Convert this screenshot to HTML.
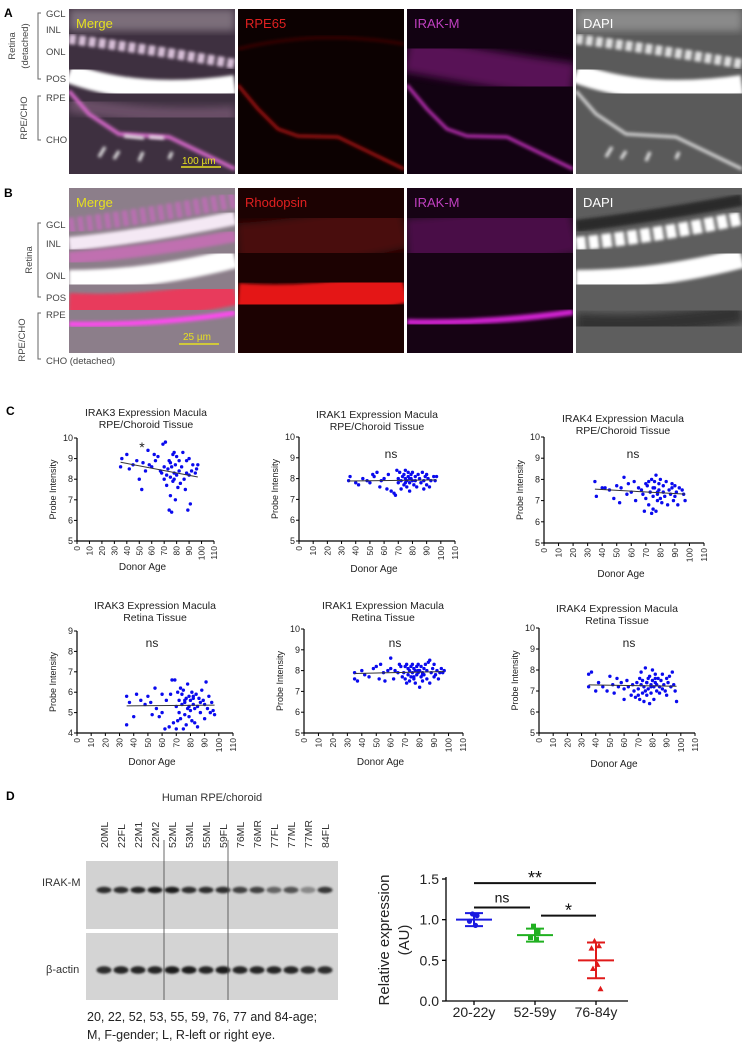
<!DOCTYPE html>
<html><head><meta charset="utf-8">
<style>
html,body{margin:0;padding:0;background:#fff;}
#page{position:relative;width:748px;height:1050px;overflow:hidden;font-family:"Liberation Sans",sans-serif;}
svg text{font-family:"Liberation Sans",sans-serif;}
</style></head>
<body>
<div id="page">
<svg id="fig" width="748" height="1050" viewBox="0 0 748 1050" xmlns="http://www.w3.org/2000/svg">
<defs>
<filter id="bl" x="-20%" y="-20%" width="140%" height="140%"><feGaussianBlur stdDeviation="1.6"/></filter>
<filter id="bl2" x="-20%" y="-20%" width="140%" height="140%"><feGaussianBlur stdDeviation="4"/></filter>
<filter id="bb" x="-50%" y="-100%" width="200%" height="300%"><feGaussianBlur stdDeviation="1"/></filter>
<clipPath id="cp"><rect x="0" y="0" width="166" height="165"/></clipPath>
</defs>

<!-- Panel labels -->
<text x="4" y="17" font-size="12" font-weight="bold">A</text>
<text x="4" y="197" font-size="12" font-weight="bold">B</text>
<text x="6" y="415" font-size="12" font-weight="bold">C</text>
<text x="6" y="800" font-size="12" font-weight="bold">D</text>

<!-- Panel A side labels -->
<g font-size="9.5" fill="#444">
<text x="46" y="17">GCL</text><text x="46" y="33">INL</text><text x="46" y="55">ONL</text><text x="46" y="82">POS</text><text x="46" y="101">RPE</text><text x="46" y="143">CHO</text>
<path d="M41,13 h-3 v66 h3" stroke="#666" fill="none"/>
<path d="M41,96 h-3 v44 h3" stroke="#666" fill="none"/>
<text transform="translate(15,46) rotate(-90)" text-anchor="middle" font-size="9.5">Retina</text>
<text transform="translate(28,46) rotate(-90)" text-anchor="middle" font-size="9.5">(detached)</text>
<text transform="translate(27,118) rotate(-90)" text-anchor="middle" font-size="9.5">RPE/CHO</text>
</g>
<!-- Panel B side labels -->
<g font-size="9.5" fill="#444">
<text x="46" y="228">GCL</text><text x="46" y="247">INL</text><text x="46" y="279">ONL</text><text x="46" y="301">POS</text><text x="46" y="318">RPE</text><text x="46" y="364">CHO (detached)</text>
<path d="M41,223 h-3 v74 h3" stroke="#666" fill="none"/>
<path d="M41,313 h-3 v46 h3" stroke="#666" fill="none"/>
<text transform="translate(32,260) rotate(-90)" text-anchor="middle" font-size="9.5">Retina</text>
<text transform="translate(25,340) rotate(-90)" text-anchor="middle" font-size="9.5">RPE/CHO</text>
</g>

<!-- Panel A images -->
<g transform="translate(69,9)"><g clip-path="url(#cp)">
<rect width="166" height="165" fill="#3e3040"/>
<rect width="166" height="22" fill="#7c6e7a" filter="url(#bl2)"/>
<path d="M0,30 Q80,40 166,55" stroke="#d8c0d8" stroke-width="10" fill="none" stroke-dasharray="7 3" filter="url(#bl)"/>
<path d="M0,64 Q70,90 166,76" stroke="#fff" stroke-width="20" fill="none" filter="url(#bl)"/>
<path d="M0,95 Q80,110 166,105" stroke="#6a5068" stroke-width="16" fill="none" filter="url(#bl2)"/>
<path d="M0,82 L20,105 L50,125 L100,128 L166,160" stroke="#d468c8" stroke-width="4" fill="none" filter="url(#bl)"/>
<path d="M30,148 l6,-10 M45,150 l5,-8 M70,152 l4,-9 M100,150 l3,-7 M55,127 l20,2 M80,128 l15,1" stroke="#eee" stroke-width="3" filter="url(#bl)"/>
<text x="7" y="19" font-size="13" fill="#e6e020">Merge</text>
<line x1="112" y1="158" x2="152" y2="158" stroke="#e6e020" stroke-width="1.5"/>
<text x="113" y="155" font-size="10" fill="#e6e020">100 µm</text>
</g></g>
<g transform="translate(238,9)"><g clip-path="url(#cp)">
<rect width="166" height="165" fill="#0c0101"/>
<path d="M0,40 Q80,20 166,35" stroke="#3a0606" stroke-width="3" fill="none" filter="url(#bl)"/>
<path d="M0,76 L20,100 L40,120 L60,127 L100,128 L166,160" stroke="#c41212" stroke-width="2.5" fill="none" filter="url(#bl)"/>
<text x="7" y="19" font-size="13" fill="#e02020">RPE65</text>
</g></g>
<g transform="translate(407,9)"><g clip-path="url(#cp)">
<rect width="166" height="165" fill="#120212"/>
<path d="M0,45 Q80,60 166,72" stroke="#6a1868" stroke-width="36" fill="none" opacity="0.8" filter="url(#bl2)"/>
<path d="M0,76 L20,100 L40,120 L60,127 L100,128 L166,160" stroke="#c830c0" stroke-width="3" fill="none" filter="url(#bl)"/>
<text x="7" y="19" font-size="13" fill="#c040c0">IRAK-M</text>
</g></g>
<g transform="translate(576,9)"><g clip-path="url(#cp)">
<rect width="166" height="165" fill="#5a5a5a"/>
<rect width="166" height="22" fill="#8a8a8a" filter="url(#bl2)"/>
<path d="M0,30 Q80,40 166,55" stroke="#e0e0e0" stroke-width="10" fill="none" stroke-dasharray="7 3" filter="url(#bl)"/>
<path d="M0,64 Q70,90 166,76" stroke="#fff" stroke-width="20" fill="none" filter="url(#bl)"/>
<path d="M0,82 L20,105 L50,125 L100,128 L166,160" stroke="#ddd" stroke-width="3" fill="none" filter="url(#bl)"/>
<path d="M30,148 l6,-10 M45,150 l5,-8 M70,152 l4,-9 M100,150 l3,-7" stroke="#eee" stroke-width="3" filter="url(#bl)"/>
<text x="7" y="19" font-size="13" fill="#fff">DAPI</text>
</g></g>

<!-- Panel B images -->
<g transform="translate(69,188)"><g clip-path="url(#cp)">
<rect width="166" height="165" fill="#8c7e8a"/>
<path d="M0,38 Q80,28 166,12" stroke="#b870b0" stroke-width="16" fill="none" stroke-dasharray="6 3" filter="url(#bl)"/>
<path d="M0,56 Q80,48 166,30" stroke="#f4e8f4" stroke-width="14" fill="none" filter="url(#bl)"/>
<path d="M0,70 Q80,64 166,48" stroke="#c070b0" stroke-width="12" fill="none" filter="url(#bl)"/>
<path d="M0,92 Q80,92 166,70" stroke="#fff" stroke-width="20" fill="none" filter="url(#bl)"/>
<path d="M0,118 Q80,122 166,104" stroke="#e83a5c" stroke-width="26" fill="none" filter="url(#bl)"/>
<path d="M0,136 Q80,138 166,125" stroke="#ff48f0" stroke-width="5" fill="none" filter="url(#bl)"/>
<text x="7" y="19" font-size="13" fill="#e6e020">Merge</text>
<line x1="110" y1="156" x2="150" y2="156" stroke="#e6e020" stroke-width="1.5"/>
<text x="114" y="152" font-size="10" fill="#e6e020">25 µm</text>
</g></g>
<g transform="translate(238,188)"><g clip-path="url(#cp)">
<rect width="166" height="165" fill="#1c0202"/>
<path d="M0,60 Q80,55 166,35" stroke="#4a0808" stroke-width="50" fill="none" filter="url(#bl2)"/>
<path d="M0,112 Q80,118 166,98" stroke="#e41212" stroke-width="34" fill="none" filter="url(#bl)"/>
<text x="7" y="19" font-size="13" fill="#e02020">Rhodopsin</text>
</g></g>
<g transform="translate(407,188)"><g clip-path="url(#cp)">
<rect width="166" height="165" fill="#160314"/>
<path d="M0,60 Q80,55 166,35" stroke="#4a1046" stroke-width="60" fill="none" filter="url(#bl2)"/>
<path d="M0,134 Q80,136 166,124" stroke="#d020d0" stroke-width="6" fill="none" filter="url(#bl)"/>
<text x="7" y="19" font-size="13" fill="#c040c0">IRAK-M</text>
</g></g>
<g transform="translate(576,188)"><g clip-path="url(#cp)">
<rect width="166" height="165" fill="#5e5e5e"/>
<path d="M0,38 Q80,28 166,12" stroke="#2a2a2a" stroke-width="12" fill="none" filter="url(#bl)"/>
<path d="M0,56 Q80,48 166,30" stroke="#fff" stroke-width="14" fill="none" stroke-dasharray="10 3" filter="url(#bl)"/>
<path d="M0,92 Q80,92 166,70" stroke="#fff" stroke-width="20" fill="none" filter="url(#bl)"/>
<path d="M0,135 Q80,140 166,125" stroke="#333" stroke-width="20" fill="none" filter="url(#bl2)"/>
<text x="7" y="19" font-size="13" fill="#fff">DAPI</text>
</g></g>

<g id="charts"></g>
<g id="blot"></g>
<g id="plotd"></g>
</svg>
</div>
<script>
// ---------- Panel C data ----------
const rpeAges = [35,36,40,42,45,48,50,52,53,55,57,58,60,62,63,65,67,68,69,70,
70,71,72,72,73,74,74,75,75,76,76,77,77,78,78,79,79,80,80,81,
82,82,83,84,85,86,87,88,88,89,90,90,91,92,93,95,96,97,75,78];
const irak3Rpe = [8.6,9.0,9.2,8.5,8.7,8.9,8.0,7.5,8.8,8.4,9.4,8.7,8.6,9.2,8.9,9.1,8.4,8.3,9.7,8.6,
8.0,9.8,8.2,7.7,8.5,6.5,8.9,8.1,7.2,6.4,8.6,9.2,7.9,9.3,8.3,7.0,8.7,8.2,9.1,7.6,
8.9,8.4,7.8,8.6,9.3,8.0,7.5,8.9,8.3,6.5,9.0,8.2,6.8,8.4,8.7,8.3,8.5,8.7,8.8,8.0];
const irak1Rpe = [7.9,8.1,7.8,7.7,8.0,7.9,7.8,8.2,8.1,8.3,7.6,7.9,8.0,7.5,8.2,7.4,7.3,7.2,8.4,8.0,
7.8,8.3,7.9,7.5,8.1,8.2,7.7,8.0,8.4,7.9,7.6,8.3,8.1,7.8,7.4,8.2,8.0,7.9,8.3,7.7,
8.1,7.9,7.6,8.2,8.0,7.8,8.3,7.5,7.9,8.1,8.2,7.7,8.0,7.6,7.9,8.1,7.9,8.1,7.8,8.0];
const irak4Rpe = [7.9,7.2,7.6,7.6,7.5,7.1,7.7,6.9,7.6,8.1,7.3,7.8,7.4,7.9,7.0,7.6,7.5,7.3,6.5,7.8,
7.1,7.7,6.8,7.9,7.4,6.4,8.0,7.2,6.6,7.6,7.9,6.5,8.2,7.3,7.0,7.8,7.5,7.1,8.0,6.9,
7.4,7.7,7.2,7.9,6.8,7.5,7.3,7.6,7.8,7.0,7.7,7.2,7.4,6.8,7.6,7.5,7.3,7.0,7.6,7.4];
const retAges = [35,35,37,40,42,45,48,50,52,53,55,56,58,60,60,62,63,65,66,67,
68,69,70,70,71,71,72,72,73,73,74,74,75,75,76,76,77,77,78,78,
79,79,80,80,81,81,82,82,83,83,84,85,85,86,87,87,88,89,90,90,
91,92,93,94,95,96,97,76,79,82];
const irak3Ret = [5.8,4.4,5.5,4.8,5.9,5.6,5.4,5.8,5.5,4.9,6.2,5.2,4.8,5.9,5.0,4.2,5.6,4.3,5.9,6.6,
4.5,6.6,5.3,4.2,6.0,4.6,5.6,5.0,6.2,4.7,5.4,5.9,4.2,6.1,5.5,4.9,5.7,4.4,6.4,5.2,
5.8,4.8,5.6,5.1,6.0,4.6,5.4,5.8,5.2,4.5,5.9,5.3,4.3,5.7,5.5,5.0,6.1,5.6,4.7,5.4,
6.5,5.2,5.8,5.0,5.5,5.1,4.9,5.6,5.3,5.7];
const irak1Ret = [7.6,7.9,7.5,8.0,7.8,7.7,8.1,8.2,7.6,8.3,7.9,7.5,8.0,8.1,8.6,7.6,8.0,7.9,8.3,8.2,
7.7,7.9,8.2,7.6,8.3,7.4,8.1,7.8,8.0,7.5,8.2,7.7,8.3,7.9,7.6,8.1,8.0,7.4,8.2,7.8,
7.9,8.3,7.2,8.0,7.7,8.2,7.9,7.5,8.1,7.8,8.3,7.6,8.0,8.4,7.4,8.5,7.9,8.1,7.7,8.3,
7.8,8.0,7.6,7.9,8.1,7.9,8.0,7.7,8.0,7.8];
const irak4Ret = [7.8,7.2,7.9,7.0,7.4,7.2,7.0,7.7,7.3,6.9,7.6,7.2,7.4,6.6,7.1,7.5,7.2,6.8,7.3,7.0,
6.7,7.4,7.1,6.8,7.6,6.6,7.3,7.9,6.9,7.5,7.2,6.5,8.1,7.0,7.4,6.8,7.6,7.1,6.4,7.7,
7.3,6.9,8.0,7.5,7.2,6.6,7.4,7.8,7.0,7.3,7.6,6.9,7.2,7.5,7.1,7.8,7.3,7.0,7.6,6.8,
7.4,7.7,7.2,7.9,7.3,7.0,6.5,7.4,7.2,7.6];
const xTicks = [0,10,20,30,40,50,60,70,80,90,100,110];
const chartTitles = [["IRAK3 Expression Macula","RPE/Choroid Tissue"],["IRAK1 Expression Macula","RPE/Choroid Tissue"],["IRAK4 Expression Macula","RPE/Choroid Tissue"],["IRAK3 Expression Macula","Retina Tissue"],["IRAK1 Expression Macula","Retina Tissue"],["IRAK4 Expression Macula","Retina Tissue"]];
const sigLabels = ["*","ns","ns","ns","ns","ns"];
const yRanges = [[5,10],[5,10],[5,10],[4,9],[5,10],[5,10]];

// ---------- Panel D data ----------
const laneLabels = ["20ML","22FL","22M1","22M2","52ML","53ML","55ML","59FL","76ML","76MR","77FL","77ML","77MR","84FL"];
const irakBand = [0.9,0.9,0.95,1,1,0.9,0.9,0.9,0.8,0.8,0.6,0.7,0.4,0.85];
const actinBand = [0.9,0.95,0.95,0.95,1,1,0.95,1,0.95,0.95,0.95,0.95,0.9,0.9];
const groups = ["20-22y","52-59y","76-84y"];
const groupMeans = [1.0,0.81,0.50];
const groupSD = [0.08,0.08,0.22];
const groupPoints = [[1.07,1.05,0.98,0.93],[0.92,0.85,0.78,0.76],[0.74,0.68,0.65,0.45,0.40,0.15]];
const groupColors = ["#1a1ae0","#20b020","#e01a1a"];
const dTicks = [0.0,0.5,1.0,1.5];

const NS="http://www.w3.org/2000/svg";
function el(tag, parent, attrs, txt){const e=document.createElementNS(NS,tag);for(const k in attrs)e.setAttribute(k,attrs[k]);if(txt!==undefined)e.textContent=txt;parent.appendChild(e);return e;}

// layout of six charts
const layouts = [
 {x0:77,x1:214,yt:438,yb:541,tx:146,ty:416,sx:142,sy:452,dy:570},
 {x0:299,x1:455,yt:437,yb:541,tx:377,ty:418,sx:391,sy:458,dy:572},
 {x0:544,x1:704,yt:437,yb:543,tx:623,ty:422,sx:633,sy:458,dy:577},
 {x0:77,x1:233,yt:631,yb:733,tx:155,ty:609,sx:152,sy:647,dy:765},
 {x0:304,x1:463,yt:629,yb:733,tx:383,ty:609,sx:395,sy:647,dy:765},
 {x0:539,x1:695,yt:628,yb:733,tx:617,ty:612,sx:629,sy:647,dy:767}
];
const ages=[rpeAges,rpeAges,rpeAges,retAges,retAges,retAges];
const vals=[irak3Rpe,irak1Rpe,irak4Rpe,irak3Ret,irak1Ret,irak4Ret];
const charts=document.getElementById('charts');
layouts.forEach((L,i)=>{
  const g=el('g',charts,{});
  
  
  const [ymin,ymax]=yRanges[i];
  const X=a=>L.x0+(a/110)*(L.x1-L.x0);
  const Y=v=>L.yb-(v-ymin)/(ymax-ymin)*(L.yb-L.yt);
  const t1=el('text',g,{x:L.tx,y:L.ty,'text-anchor':'middle','font-size':'10.5',fill:'#222'},chartTitles[i][0]);
  
  
  const t2=el('text',g,{x:L.tx,y:L.ty+12,'text-anchor':'middle','font-size':'10.5',fill:'#222'},chartTitles[i][1]);
  
  
  el('line',g,{x1:L.x0,y1:L.yt,x2:L.x0,y2:L.yb,stroke:'#000','stroke-width':1.2});
  el('line',g,{x1:L.x0,y1:L.yb,x2:L.x1,y2:L.yb,stroke:'#000','stroke-width':1.2});
  for(let v=ymin;v<=ymax;v++){
    el('line',g,{x1:L.x0-3,y1:Y(v),x2:L.x0,y2:Y(v),stroke:'#000'});
    const tl=el('text',g,{x:L.x0-4,y:Y(v)+3,'text-anchor':'end','font-size':'9',fill:'#222'},String(v));
    
    
  }
  xTicks.forEach(t=>{
    el('line',g,{x1:X(t),y1:L.yb,x2:X(t),y2:L.yb+3,stroke:'#000'});
    const tl=el('text',g,{transform:`translate(${X(t)+3},${L.yb+5}) rotate(-90)`,'text-anchor':'end','font-size':'8.5',fill:'#222'},String(t));
    
    
  });
  const yl=el('text',g,{transform:`translate(${L.x0-21},${(L.yt+L.yb)/2}) rotate(-90)`,'text-anchor':'middle','font-size':'9',fill:'#222'},'Probe Intensity');
  
  
  const xl=el('text',g,{x:(L.x0+L.x1)/2-3,y:L.dy,'text-anchor':'middle','font-size':'10',fill:'#222'},'Donor Age');
  
  
  const sg=el('text',g,{x:L.sx,y:L.sy,'text-anchor':'middle','font-size':sigLabels[i]=='*'?'14':'12',fill:'#222'},sigLabels[i]);
  
  
  const A=ages[i],V=vals[i],n=Math.min(A.length,V.length);
  let sa=0,sv=0,sav=0,saa=0,amin=1e9,amax=-1e9;
  for(let k=0;k<n;k++){
    const c=el('circle',g,{cx:X(A[k]),cy:Y(V[k]),r:1.7,fill:'#0a0aee'});
    
    
    sa+=A[k];sv+=V[k];sav+=A[k]*V[k];saa+=A[k]*A[k];amin=Math.min(amin,A[k]);amax=Math.max(amax,A[k]);
  }
  const b=(n*sav-sa*sv)/(n*saa-sa*sa),a0=(sv-b*sa)/n;
  const ln=el('line',g,{x1:X(amin),y1:Y(a0+b*amin),x2:X(amax),y2:Y(a0+b*amax),stroke:'#333','stroke-width':1});
  
  
});

// ---------- Blot ----------
const blot=document.getElementById('blot');
const ht=el('text',blot,{x:212,y:801,'text-anchor':'middle','font-size':'11',fill:'#333'},'Human RPE/choroid');


const LX=k=>104+k*17;
laneLabels.forEach((l,k)=>{
  const t=el('text',blot,{transform:`translate(${LX(k)+4},848) rotate(-90)`,'font-size':'10.5',fill:'#333'},l);
  
  
});
const r1=el('rect',blot,{x:86,y:861,width:252,height:68,fill:'#d2d2d2'});


const r2=el('rect',blot,{x:86,y:933,width:252,height:67,fill:'#d4d4d4'});


irakBand.forEach((v,k)=>{
  const e=el('ellipse',blot,{cx:LX(k),cy:890,rx:7.5,ry:3.2,fill:'#1a1a1a',opacity:v,filter:'url(#bb)'});
  
  
});
actinBand.forEach((v,k)=>{
  const e=el('ellipse',blot,{cx:LX(k),cy:970,rx:7.5,ry:3.8,fill:'#1a1a1a',opacity:v,filter:'url(#bb)'});
  
  
});
el('line',blot,{x1:164,y1:840,x2:164,y2:1000,stroke:'#444','stroke-width':0.8});
el('line',blot,{x1:228,y1:840,x2:228,y2:1000,stroke:'#444','stroke-width':0.8});
const l1=el('text',blot,{x:42,y:886,'font-size':'11',fill:'#333'},'IRAK-M');


const l2=el('text',blot,{x:46,y:973,'font-size':'11',fill:'#333'},'β-actin');


const c1=el('text',blot,{x:87,y:1021,'font-size':'12.5',fill:'#222'},'20, 22, 52, 53, 55, 59, 76, 77 and 84-age;');


const c2=el('text',blot,{x:87,y:1039,'font-size':'12.5',fill:'#222'},'M, F-gender; L, R-left or right eye.');



// ---------- Plot D ----------
const pd=document.getElementById('plotd');
const DX0=446,DX1=628,DY0=1001,DY1=879;
const DY=v=>DY0-v/1.5*(DY0-DY1);
const GX=k=>474+k*61;
el('line',pd,{x1:DX0,y1:DY1-2,x2:DX0,y2:DY0,stroke:'#000','stroke-width':1.3});
el('line',pd,{x1:DX0,y1:DY0,x2:DX1,y2:DY0,stroke:'#000','stroke-width':1.3});
dTicks.forEach(t=>{
  el('line',pd,{x1:DX0-4,y1:DY(t),x2:DX0,y2:DY(t),stroke:'#000','stroke-width':1.3});
  const tl=el('text',pd,{x:DX0-7,y:DY(t)+5,'text-anchor':'end','font-size':'14',fill:'#222'},t.toFixed(1));
  
  
});
const dy1=el('text',pd,{transform:`translate(389,${(DY0+DY1)/2}) rotate(-90)`,'text-anchor':'middle','font-size':'15',fill:'#222'},'Relative expression');


const dy2=el('text',pd,{transform:`translate(409,${(DY0+DY1)/2}) rotate(-90)`,'text-anchor':'middle','font-size':'15',fill:'#222'},'(AU)');


groups.forEach((gname,k)=>{
  el('line',pd,{x1:GX(k),y1:DY0,x2:GX(k),y2:DY0+4,stroke:'#000','stroke-width':1.3});
  const gl=el('text',pd,{x:GX(k),y:1017,'text-anchor':'middle','font-size':'14',fill:'#222'},gname);
  
  
  const col=groupColors[k],m=groupMeans[k],s=groupSD[k];
  const ml=el('line',pd,{x1:GX(k)-18,y1:DY(m),x2:GX(k)+18,y2:DY(m),stroke:col,'stroke-width':2});
  
  
  el('line',pd,{x1:GX(k),y1:DY(m+s),x2:GX(k),y2:DY(m-s),stroke:col,'stroke-width':2});
  el('line',pd,{x1:GX(k)-9,y1:DY(m+s),x2:GX(k)+9,y2:DY(m+s),stroke:col,'stroke-width':2});
  el('line',pd,{x1:GX(k)-9,y1:DY(m-s),x2:GX(k)+9,y2:DY(m-s),stroke:col,'stroke-width':2});
  groupPoints[k].forEach((v,j)=>{
    const off=(j%2?1:-1)*((j%3)+1)*1.5;
    let p;
    if(k===0) p=el('circle',pd,{cx:GX(k)+off,cy:DY(v),r:2.6,fill:col});
    else if(k===1) p=el('rect',pd,{x:GX(k)+off-2.5,y:DY(v)-2.5,width:5,height:5,fill:col});
    else p=el('path',pd,{d:`M${GX(k)+off},${DY(v)-3} l3,5.5 h-6 z`,fill:col});
    
    
  });
});
const bars=[[0,2,1.45,'**'],[0,1,1.15,'ns'],[1,2,1.05,'*']];
bars.forEach(b=>{
  const x1=GX(b[0])+(b[0]===1?6:0),x2=GX(b[1])-(b[1]===1?5:0);
  const l=el('line',pd,{x1:x1,y1:DY(b[2]),x2:x2,y2:DY(b[2]),stroke:'#111','stroke-width':2});
  
  
  const t=el('text',pd,{x:(x1+x2)/2,y:DY(b[2])-(b[3]==='ns'?5:-1),'text-anchor':'middle','font-size':b[3]==='ns'?'14':'18',fill:'#111'},b[3]);
  
  
});
</script>
</body></html>
